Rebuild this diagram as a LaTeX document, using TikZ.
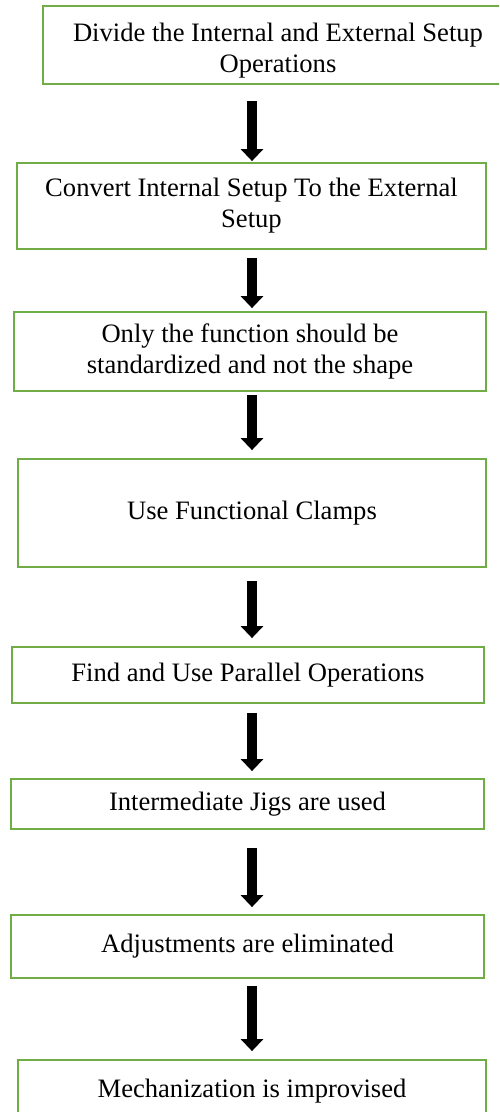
\documentclass[tikz,border=0pt]{standalone}
\usepackage{fontspec}
\setmainfont{Liberation Serif}
\usetikzlibrary{arrows.meta,positioning}

\definecolor{boxgreen}{RGB}{112,173,71}

\begin{document}
\begin{tikzpicture}[x=1pt,y=-1pt,
  stepbox/.style={draw=boxgreen,line width=1.8pt,fill=white,align=center,
    inner sep=0pt,font=\fontsize{26.6}{31}\selectfont},
  flow/.style={line width=10pt,-{Triangle[width=22pt,length=12pt]},
    shorten <=9pt,shorten >=5pt}]

% page
\clip (0,0) rectangle (499,1112);
\fill[white] (0,0) rectangle (499,1112);

% the steps
\node[stepbox,minimum width=470pt,minimum height=78pt,text height=60pt] (divide) at (278,45)
  {Divide the Internal and External Setup\\Operations};
\node[stepbox,minimum width=469pt,minimum height=86pt] (convert) at (251.5,206)
  {Convert Internal Setup To the External\\Setup};
\node[stepbox,minimum width=472pt,minimum height=79pt] (function) at (250,351.5)
  {Only the function should be\\standardized and not the shape};
\node[stepbox,minimum width=468pt,minimum height=108pt] (clamps) at (252,513)
  {Use Functional Clamps};
\node[stepbox,minimum width=472pt,minimum height=56pt] (parallel) at (248,675)
  {Find and Use Parallel Operations};
\node[stepbox,minimum width=473pt,minimum height=50pt] (jigs) at (247.5,804)
  {Intermediate Jigs are used};
\node[stepbox,minimum width=473pt,minimum height=63pt] (adjust) at (247.5,946.5)
  {Adjustments are eliminated};
\node[stepbox,minimum width=468pt,minimum height=62pt] (mech) at (252,1091)
  {Mechanization is improvised};

% arrows
\coordinate (spine) at (252,0);
\draw[flow,shorten <=16pt,shorten >=1pt] (divide.south -| spine) -- (convert.north -| spine);
\draw[flow,shorten <=8pt,shorten >=3pt] (convert.south -| spine) -- (function.north -| spine);
\draw[flow,shorten <=3pt,shorten >=8pt] (function.south -| spine) -- (clamps.north -| spine);
\draw[flow,shorten <=13pt,shorten >=8pt] (clamps.south -| spine) -- (parallel.north -| spine);
\draw[flow,shorten <=9pt,shorten >=7pt] (parallel.south -| spine) -- (jigs.north -| spine);
\draw[flow,shorten <=18pt,shorten >=7pt] (jigs.south -| spine) -- (adjust.north -| spine);
\draw[flow,shorten <=7pt,shorten >=8pt] (adjust.south -| spine) -- (mech.north -| spine);

\end{tikzpicture}
\end{document}
